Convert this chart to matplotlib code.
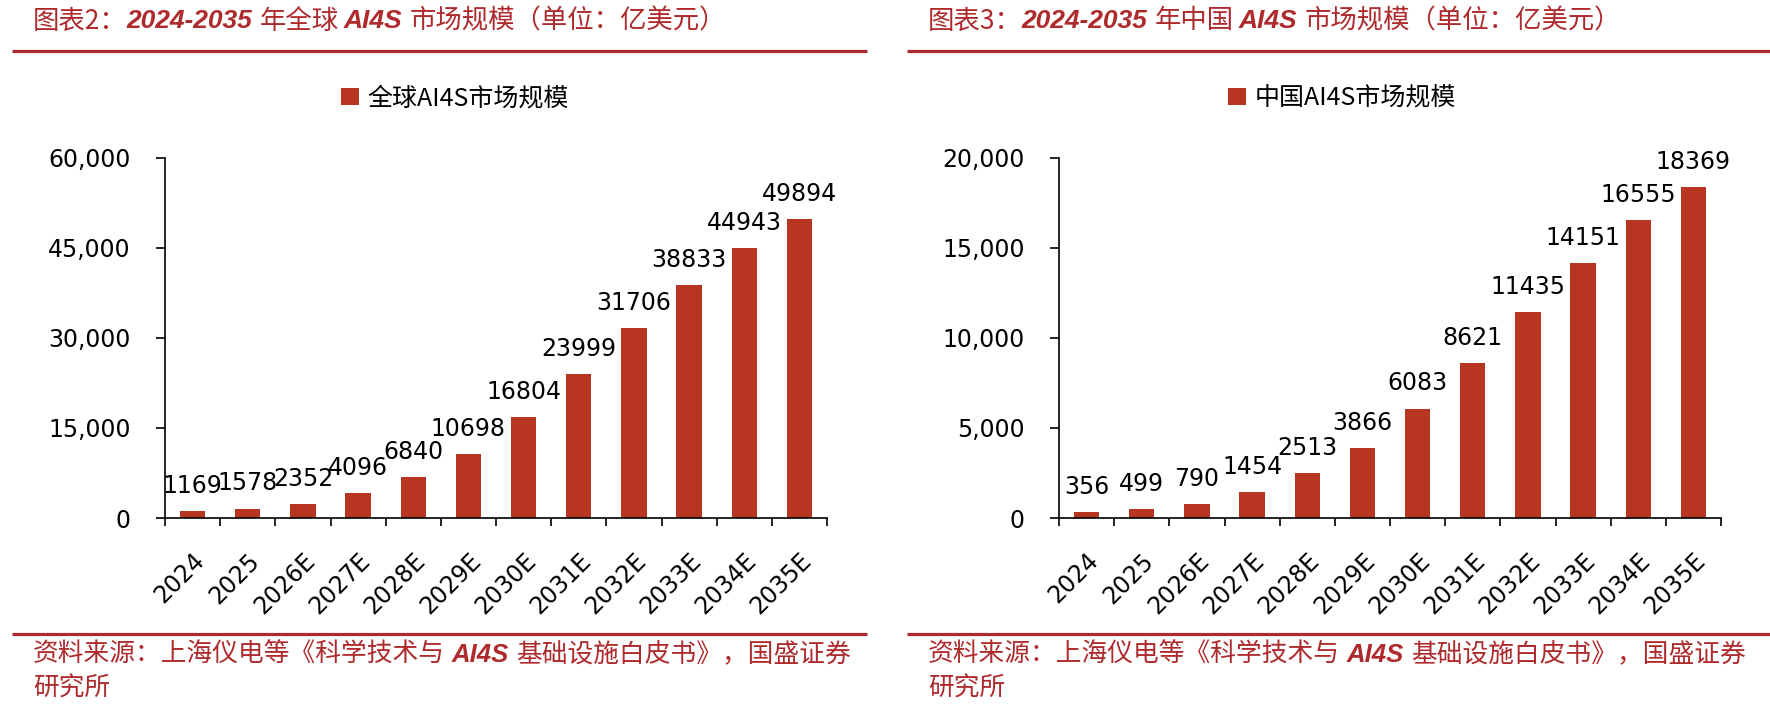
import matplotlib
matplotlib.use("Agg")
import matplotlib.pyplot as plt
import numpy as np
from matplotlib.lines import Line2D
from matplotlib.font_manager import FontProperties
from matplotlib.ticker import StrMethodFormatter

# --- data ---
years = ["2024", "2025", "2026E", "2027E", "2028E", "2029E",
         "2030E", "2031E", "2032E", "2033E", "2034E", "2035E"]
global_vals = [1169, 1578, 2352, 4096, 6840, 10698,
               16804, 23999, 31706, 38833, 44943, 49894]
china_vals = [356, 499, 790, 1454, 2513, 3866,
              6083, 8621, 11435, 14151, 16555, 18369]

legend_labels = ["全球AI4S市场规模", "中国AI4S市场规模"]
title_places = ["全球", "中国"]
fig_numbers = ["2", "3"]
y_max = [60000, 20000]
y_step = [15000, 5000]

# --- style ---
W, H = 1770, 714
RED_TEXT = "#AE2A2C"
RED_BAR = "#B83521"
CJK = "Noto Sans CJK SC"
NUM = "DejaVu Sans"

fig = plt.figure(figsize=(W / 100, H / 100), dpi=100)
renderer = fig.canvas.get_renderer()


def fx(x):
    return x / W


def fy(y):
    return 1 - y / H


STYLES = {
    "cjk": dict(family=[CJK, "DejaVu Sans"]),
    "lat": dict(family=["Liberation Sans", "DejaVu Sans"],
                fontweight="bold", fontstyle="italic"),
}


def draw_runs(x, y, runs, size):
    # mixed font text, piece by piece
    for item in runs:
        if isinstance(item, (int, float)):
            x += item
            continue
        s, kind = item
        t = fig.text(fx(x), fy(y), s, ha="left", va="center", fontsize=size,
                     color=RED_TEXT, **STYLES[kind])
        x += t.get_window_extent(renderer).width


panel_x0 = [0, 895]
axes_left = [165, 1059]

for k, vals in enumerate([global_vals, china_vals]):
    ox = panel_x0[k]

    # title + red rules
    draw_runs(ox + 33, 21, [
        ("图表" + fig_numbers[k] + "：", "cjk"),
        ("2024-2035", "lat"), 7,
        ("年" + title_places[k], "cjk"), 5,
        ("AI4S", "lat"), 7,
        ("市场规模（单位：亿美元）", "cjk"),
    ], 19)
    x_end = 867 if k == 0 else W
    line_start = 12 if k == 0 else 907
    for yy in (51, 634):
        fig.add_artist(Line2D([fx(line_start), fx(x_end)], [fy(yy), fy(yy)],
                              color=RED_TEXT, lw=2.3, solid_capstyle="butt"))

    # source
    draw_runs(ox + 33, 655, [
        ("资料来源：上海仪电等《科学技术与", "cjk"), 7,
        ("AI4S", "lat"), 7,
        ("基础设施白皮书》，国盛证券", "cjk"),
    ], 18.5)
    draw_runs(ox + 33, 689, [("研究所", "cjk")], 18.5)

    # chart
    ax = fig.add_axes([fx(axes_left[k]), fy(518), 662 / W, 360 / H])
    x = np.arange(len(years))
    bars = ax.bar(x, vals, width=0.46, color=RED_BAR, zorder=2)

    for xi, v in zip(x, vals):
        ax.annotate(f"{v}", (xi, v), xytext=(0, 13), textcoords="offset points",
                    ha="center", va="baseline", fontsize=17, family=NUM)

    ax.set_xlim(-0.5, len(years) - 0.5)
    ax.set_ylim(0, y_max[k])
    ax.set_yticks(np.arange(0, y_max[k] + 1, y_step[k]))
    ax.yaxis.set_major_formatter(StrMethodFormatter("{x:,.0f}"))
    ax.set_xticks(x)
    ax.set_xticklabels(years, rotation=45, ha="right", va="top",
                       rotation_mode="anchor")
    ax.set_xticks(np.arange(-0.5, len(years), 1), minor=True)

    ax.tick_params(axis="x", which="major", length=0, pad=22, labelsize=17)
    ax.tick_params(axis="x", which="minor", length=6, width=1.2, direction="out")
    ax.tick_params(axis="y", length=6.5, width=1.2, pad=18, labelsize=17)
    for lab in ax.get_xticklabels() + ax.get_yticklabels():
        lab.set_family(NUM)

    for side in ("top", "right"):
        ax.spines[side].set_visible(False)
    for side in ("left", "bottom"):
        ax.spines[side].set_linewidth(1.2)
        ax.spines[side].set_color("black")

    leg_x = 341 if k == 0 else 1228
    fig.legend([bars], [legend_labels[k]], loc="center left",
               bbox_to_anchor=(fx(leg_x), fy(98)), frameon=False,
               borderpad=0, borderaxespad=0, handlelength=0.7, handleheight=0.7,
               handletextpad=0.35, prop=FontProperties(family=CJK, size=18))

fig.savefig("out.png", dpi=100)
